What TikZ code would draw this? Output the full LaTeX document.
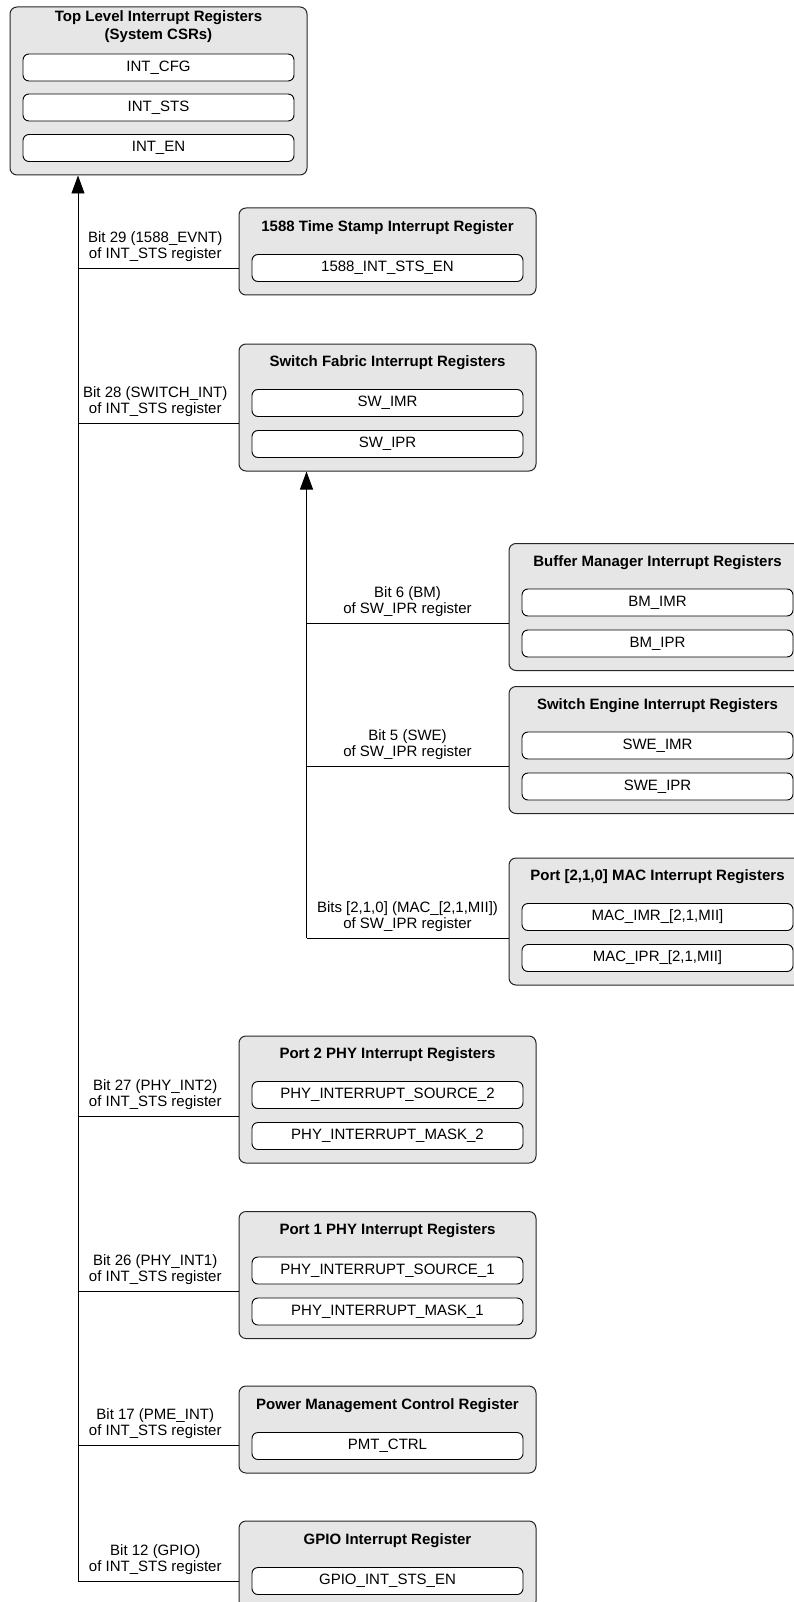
\documentclass[tikz,border=0pt]{standalone}
\usepackage{fontspec}
\setmainfont{Liberation Sans}
\usetikzlibrary{arrows.meta}
\definecolor{boxgray}{RGB}{230,230,230}
\begin{document}
\begin{tikzpicture}[x=1pt,y=-1pt,
  outer/.style={draw=black!85, fill=boxgray, rounded corners=7pt, line width=1pt, inner sep=0pt, minimum width=297pt},
  reg/.style={draw=black, fill=white, rounded corners=6pt, line width=0.9pt, minimum height=27pt, minimum width=271pt, inner sep=0pt, font=\fontsize{15}{16.5}\selectfont},
  ttl/.style={font=\fontsize{15}{18}\selectfont\bfseries, align=center, inner sep=0pt},
  lbl/.style={font=\fontsize{15}{16.3}\selectfont, align=center, inner sep=0pt, above=6pt},
  conn/.style={draw=black, line width=0.9pt},
  arr/.style={conn, -{Triangle[length=18pt,width=13pt]}}
]
\useasboundingbox (0,0) rectangle (793,1602);

% Top level
\node[outer, minimum height=168pt] (top) at (158.5,91) {};
\node[ttl] (ttop) at (158.5,27) {Top Level Interrupt Registers\\(System CSRs)};
\node[reg] (intcfg) at (158.5,67.5) {INT\_CFG};
\node[reg] (intsts) at (158.5,107.5) {INT\_STS};
\node[reg] (inten) at (158.5,148) {INT\_EN};

% 1588 (top 208)
\node[outer, minimum height=87pt] (b1588) at (387.5,251.5) {};
\node[ttl] (t1588) at (387.5,228) {1588 Time Stamp Interrupt Register};
\node[reg] (r1588) at (387.5,268) {1588\_INT\_STS\_EN};

% Switch fabric (top 344)
\node[outer, minimum height=127pt] (bsf) at (387.5,407.5) {};
\node[ttl] (tsf) at (387.5,363) {Switch Fabric Interrupt Registers};
\node[reg] (swimr) at (387.5,403) {SW\_IMR};
\node[reg] (swipr) at (387.5,444) {SW\_IPR};

% Buffer manager (top 543.5)
\node[outer, minimum height=127pt] (bbm) at (657.5,607) {};
\node[ttl] (tbm) at (657.5,562.5) {Buffer Manager Interrupt Registers};
\node[reg] (bmimr) at (657.5,602.5) {BM\_IMR};
\node[reg] (bmipr) at (657.5,643.5) {BM\_IPR};

% Switch engine (top 686.5)
\node[outer, minimum height=127pt] (bswe) at (657.5,750) {};
\node[ttl] (tswe) at (657.5,705.5) {Switch Engine Interrupt Registers};
\node[reg] (sweimr) at (657.5,745.5) {SWE\_IMR};
\node[reg] (sweipr) at (657.5,786.5) {SWE\_IPR};

% MAC (top 858)
\node[outer, minimum height=127pt] (bmac) at (657.5,921.5) {};
\node[ttl] (tmac) at (657.5,877) {Port [2,1,0] MAC Interrupt Registers};
\node[reg] (macimr) at (657.5,917) {MAC\_IMR\_[2,1,MII]};
\node[reg] (macipr) at (657.5,958) {MAC\_IPR\_[2,1,MII]};

% Port 2 PHY (top 1036)
\node[outer, minimum height=127pt] (bp2) at (387.5,1099.5) {};
\node[ttl] (tp2) at (387.5,1055) {Port 2 PHY Interrupt Registers};
\node[reg] (p2src) at (387.5,1095) {PHY\_INTERRUPT\_SOURCE\_2};
\node[reg] (p2mask) at (387.5,1136) {PHY\_INTERRUPT\_MASK\_2};

% Port 1 PHY (top 1211.5)
\node[outer, minimum height=127pt] (bp1) at (387.5,1275) {};
\node[ttl] (tp1) at (387.5,1230.5) {Port 1 PHY Interrupt Registers};
\node[reg] (p1src) at (387.5,1270.5) {PHY\_INTERRUPT\_SOURCE\_1};
\node[reg] (p1mask) at (387.5,1311.5) {PHY\_INTERRUPT\_MASK\_1};

% PMC (top 1386)
\node[outer, minimum height=87pt] (bpmc) at (387.5,1429.5) {};
\node[ttl] (tpmc) at (387.5,1406) {Power Management Control Register};
\node[reg] (pmtctrl) at (387.5,1446) {PMT\_CTRL};

% GPIO (top 1521)
\node[outer, minimum height=87pt] (bgpio) at (387.5,1564.5) {};
\node[ttl] (tgpio) at (387.5,1541) {GPIO Interrupt Register};
\node[reg] (gpioreg) at (387.5,1581) {GPIO\_INT\_STS\_EN};

% junction coordinates
\coordinate (j1588) at (78,268.5);
\coordinate (jsf) at (78,423.5);
\coordinate (jp2) at (78,1116);
\coordinate (jp1) at (78,1291.5);
\coordinate (jpmc) at (78,1445.5);
\coordinate (jgpio) at (78,1581);
\coordinate (jbm) at (306.5,623.5);
\coordinate (jswe) at (306.5,766);
\coordinate (jmac) at (306.5,938);

% trunks
\draw[arr] (jgpio) -- (jgpio |- top.south);
\draw[arr] (jmac) -- (jmac |- bsf.south);

% branches
\begin{scope}[every node/.append style={xshift=-3pt}]
\draw[conn] (j1588) -- (j1588 -| b1588.west) node[midway, lbl] {Bit 29 (1588\_EVNT)\\of INT\_STS register};
\draw[conn] (jsf) -- (jsf -| bsf.west) node[midway, lbl] {Bit 28 (SWITCH\_INT)\\of INT\_STS register};
\draw[conn] (jp2) -- (jp2 -| bp2.west) node[midway, lbl] {Bit 27 (PHY\_INT2)\\of INT\_STS register};
\draw[conn] (jp1) -- (jp1 -| bp1.west) node[midway, lbl] {Bit 26 (PHY\_INT1)\\of INT\_STS register};
\draw[conn] (jpmc) -- (jpmc -| bpmc.west) node[midway, lbl] {Bit 17 (PME\_INT)\\of INT\_STS register};
\draw[conn] (jgpio) -- (jgpio -| bgpio.west) node[midway, lbl] {Bit 12 (GPIO)\\of INT\_STS register};
\end{scope}
\draw[conn] (jbm) -- (jbm -| bbm.west) node[midway, lbl] {Bit 6 (BM)\\of SW\_IPR register};
\draw[conn] (jswe) -- (jswe -| bswe.west) node[midway, lbl] {Bit 5 (SWE)\\of SW\_IPR register};
\draw[conn] (jmac) -- (jmac -| bmac.west) node[midway, lbl] {Bits [2,1,0] (MAC\_[2,1,MII])\\of SW\_IPR register};
\end{tikzpicture}
\end{document}
